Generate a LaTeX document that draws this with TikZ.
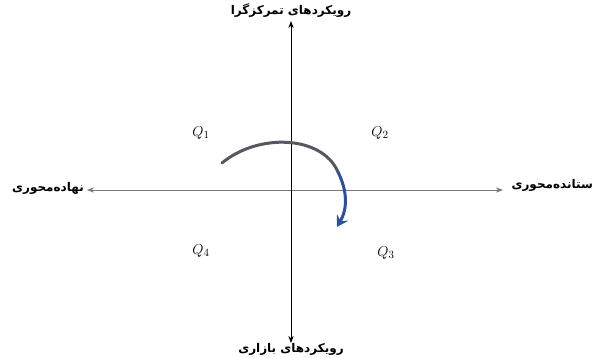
\documentclass[tikz,border=0pt]{standalone}
\usepackage{fontspec}
\newfontfamily\arabicfont[Script=Arabic]{DejaVu Sans}
\TeXXeTstate=1
\usetikzlibrary{arrows.meta}
\definecolor{axisgray}{RGB}{120,120,120}
\definecolor{curvegray}{RGB}{85,88,95}
\definecolor{curveblue}{RGB}{45,80,150}
\begin{document}
\begin{tikzpicture}[x=1pt, y=-1pt, >=Stealth,
    label/.style={font=\arabicfont\bfseries\fontsize{12}{14}\selectfont, inner sep=1pt},
    quad/.style={font=\fontsize{15}{17}\selectfont, inner sep=0pt},
    axis/.style={line width=0.9pt, ->}]
\useasboundingbox (0,0) rectangle (595,358);

% Mehvarha
\coordinate (O)  at (291,190);
\coordinate (T)  at (291,21);
\coordinate (Bt) at (291,343);
\coordinate (L)  at (87,190);
\coordinate (R)  at (503,190);

\draw[axis, axisgray] (O) -- (L);
\draw[axis, axisgray] (O) -- (R);
\draw[axis, black]    (O) -- (T);
\draw[axis, black]    (O) -- (Bt);

% Onvanha
\node[label] (top)   at (291,11)  {\beginR رویکردهای تمرکزگرا\endR};
\node[label] (bot)   at (291,349) {\beginR رویکردهای بازاری\endR};
\node[label, anchor=east] (left)  at (85,188)  {\beginR نهاده‌محوری\endR};
\node[label, anchor=east] (right) at (594,185) {\beginR ستانده‌محوری\endR};

% Chaharak-ha
\node[quad] (q1) at (201,133) {$Q_1$};
\node[quad] (q2) at (380,133) {$Q_2$};
\node[quad] (q3) at (386,253) {$Q_3$};
\node[quad] (q4) at (201,251) {$Q_4$};

% Peykan-e monhani
\coordinate (c0) at (222,163);
\coordinate (c1) at (338,172);
\coordinate (c2) at (337,227);
\draw[curvegray, line width=3pt, line cap=round]
  (c0) .. controls (258,133) and (322,135) .. (c1);
\draw[curveblue, line width=3pt, -{Stealth[length=11pt, width=13pt, inset=4pt]}]
  (c1) .. controls (347,190) and (348,208) .. (c2);

\end{tikzpicture}
\end{document}
